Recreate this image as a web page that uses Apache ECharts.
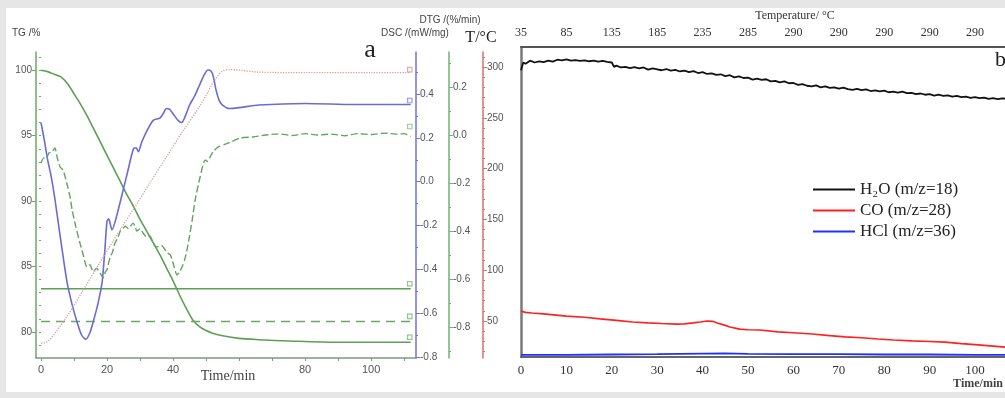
<!DOCTYPE html>
<html><head><meta charset="utf-8">
<script src="https://cdn.jsdelivr.net/npm/echarts@6/dist/echarts.min.js"></script>
<style>html,body{margin:0;padding:0;background:#fff}#c{width:1005px;height:398px}</style>
</head><body><div id="c"></div>
<script>
// ---------- Panel a : TG / DTG / DSC / T versus time ----------
const tgTime  = [0,2,4,6,8,10,12,14,16,18,20,22,24,26,28,30,32,34,36,38,40,42,44,46,48,50,52,55,60,66,75,90,112];
const tgValue = [100,99.9,99.7,99.5,99.0,98.2,97.4,96.5,95.5,94.5,93.5,92.5,91.5,90.5,89.6,88.6,87.7,86.8,85.9,84.9,83.9,82.8,81.8,80.9,80.4,80.1,79.9,79.7,79.5,79.4,79.3,79.2,79.2];
const levelTime = [0,112];
const tgSolidLevel = [83.3,83.3];
const tgDashLevel  = [80.8,80.8];
const dscTime  = [0,1,2,3,4.2,6,7.9,9.4,10.9,12.3,13.6,14.8,15.8,17.2,18.5,19.3,20,20.5,21.5,22.5,24.2,26,28,28.8,29.5,30.5,32,34,36,37,38,39,40,41.5,42.6,44,45,46.5,48,49.5,50.6,51.5,52.2,53,54,55,57,60,66,80,95,112];
const dscValue = [0.27,0.19,0.1,0.03,-0.078,-0.27,-0.46,-0.56,-0.64,-0.7,-0.72,-0.69,-0.64,-0.56,-0.46,-0.32,-0.18,-0.17,-0.22,-0.18,-0.08,0.03,0.15,0.155,0.137,0.18,0.23,0.28,0.29,0.31,0.334,0.33,0.31,0.28,0.27,0.31,0.35,0.39,0.44,0.49,0.51,0.505,0.48,0.42,0.37,0.35,0.334,0.338,0.35,0.357,0.352,0.352];
const dtgTime  = [0,0.8,1.5,2.4,3.3,4.2,5,5.8,6.7,7.8,8.8,9.4,10.5,11.8,12.8,13.9,14.8,15.8,16.8,17.9,18.8,19.5,20,20.9,21.6,22.4,23.2,24,24.8,25.5,26.5,27.9,28.5,29,30,31,32,33,34,35,36.5,38.2,39.2,40,41.2,42,42.7,43.5,44.2,45,45.8,46.7,48.2,49.7,50.5,51.2,52.1,53.6,55.5,57.3,60.3,64.2,68,72,76,80,84,88,92,96,100,104,108,110,112];
const dtgValue = [-0.117,-0.095,-0.1,-0.075,-0.07,-0.054,-0.1,-0.133,-0.146,-0.2,-0.258,-0.31,-0.38,-0.45,-0.5,-0.55,-0.54,-0.57,-0.555,-0.575,-0.595,-0.57,-0.56,-0.51,-0.49,-0.45,-0.43,-0.40,-0.39,-0.38,-0.39,-0.367,-0.38,-0.40,-0.39,-0.41,-0.425,-0.42,-0.45,-0.467,-0.46,-0.49,-0.5,-0.533,-0.583,-0.57,-0.55,-0.52,-0.48,-0.42,-0.354,-0.27,-0.175,-0.104,-0.11,-0.092,-0.07,-0.05,-0.04,-0.03,-0.0125,-0.008,0.0,0.005,-0.002,0.006,0.0,0.004,-0.003,0.006,0.002,0.008,0.004,0.006,-0.006];
const tempTime  = [0,1,2,3,4,6,8,12.8,17.9,24,28,33,38.1,43,48.2,50.5,52,53.5,55,57,60,66,80,100,112];
const tempValue = [28,28.5,30,33,37,46,55,80.5,108,140,160,186,212,237,262,275,284,291,296,297.5,297,295,294.5,294.5,294.5];

const aTimeLabels = [0,20,40,80,100];
const aTimeTicks  = [0,10,20,30,40,50,60,70,80,90,100,110];
const tgLabels  = [80,85,90,95,100];
const dscLabels = [-0.8,-0.6,-0.4,-0.2,0.0,0.2,0.4];
const dtgLabels = [-0.8,-0.6,-0.4,-0.2,0.0,0.2];
const tLabels   = [50,100,150,200,250,300];

// ---------- Panel b : MS signals versus time ----------
const topTempLabels = ['35','85','135','185','235','285','290','290','290','290','290',''];
const h2oTime  = [0,0.5,1,2,3,4,5,6,7,8,9,10,11,12,13,14,15,16,17,18,19,20,20.5,21,22,23,24,25,26,27,28,29,30,31,32,33,34,35,36,37,38,39,40,41,42,43,44,45,46,47,48,49,50,51,52,53,54,55,56,57,58,59,60,61,62,63,64,65,66,67,68,69,70,71,72,73,74,75,76,77,78,79,80,81,82,83,84,85,86,87,88,89,90,91,92,93,94,95,96,97,98,99,100,101,102,103,104,105,106,108,110];
const h2oValue = [92.5,95,94.6,95.6,95.0,95.4,95.1,95.6,95.3,95.9,95.7,96.0,95.6,95.8,95.5,95.7,95.4,95.6,95.3,95.5,95.2,95.0,93.6,94.0,93.4,93.6,93.2,93.5,93.1,93.4,92.7,93.1,92.8,92.5,92.9,92.4,92.6,92.1,92.4,91.9,92.2,91.6,91.9,91.3,91.5,91.0,91.2,90.6,90.9,90.2,90.5,90.0,90.1,89.5,89.8,89.4,89.6,88.9,89.1,88.6,88.9,88.3,88.4,87.8,88.0,87.5,87.3,87.6,87.0,87.3,86.8,87.0,86.6,86.9,86.4,86.2,86.5,86.1,86.3,85.8,86.0,85.7,85.9,85.4,85.6,85.3,85.6,85.1,85.2,84.8,85.0,84.6,84.8,84.3,84.6,84.2,84.4,84.0,84.2,83.8,84.0,83.6,83.8,83.5,83.7,83.3,83.5,83.2,83.4,83.2,83.1];
const coTime  = [0,1,2.4,5,10,14,17.4,21,24.6,28,31,34.3,36,37.9,39.5,41,42.2,43.4,45,46,48.2,50,52.6,56.6,60,64.1,68,71.4,75,78.6,82,86.1,90,93.4,97,100.7,104,106.6,110];
const coValue = [14.8,14.4,14.2,13.9,13.2,12.8,12.3,11.8,11.3,11.0,10.8,10.6,10.7,11.0,11.3,11.6,11.5,10.9,10.2,9.7,9.0,8.8,8.7,8.1,7.8,7.4,6.9,6.5,6.2,5.8,5.5,5.2,5.0,4.8,4.3,3.9,3.5,3.2,2.9];
const hclTime  = [0,10,20,30,40,45,50,60,70,80,90,100,110];
const hclValue = [0.7,0.7,0.8,0.9,1.1,1.2,1.0,0.9,0.9,0.8,0.8,0.7,0.7];

const seriesNames = ['H\u2082O (m/z=18)','CO (m/z=28)','HCl (m/z=36)'];

// ---------- build ----------
const zip = (t, v) => t.map((x, i) => [x, v[i]]);
const minorList = (a, b, s) => { const r = []; for (let x = a; x <= b + 1e-9; x += s) r.push(Math.round(x * 1000) / 1000); return r; };
const SANS = 'Liberation Sans', SERIF = 'Liberation Serif';

function yAx(o) {
  return Object.assign({
    type: 'value', gridIndex: 0, splitLine: {show: false},
    axisLine: {show: true, onZero: false, lineStyle: {color: o.color, width: 1.5}},
    axisTick: {show: true, length: 4, lineStyle: {color: o.color}, customValues: o.labels},
    axisLabel: {show: true, customValues: o.labels, fontFamily: SANS, fontSize: 10, color: '#555', margin: 4,
      formatter: o.fmt}
  }, o.extra);
}
function minorAx(o) {
  return {
    type: 'value', gridIndex: 0, position: o.position, offset: o.offset, min: o.min, max: o.max,
    splitLine: {show: false}, axisLine: {show: false},
    axisTick: {show: true, length: 2, lineStyle: {color: o.color}, customValues: o.ticks},
    axisLabel: {show: false}
  };
}

const tgAx  = {min: 78.0, max: 101.4, color: '#6aa862', position: 'left', offset: 0};
const dscAx = {min: -0.805, max: 0.592, color: '#7272d2', position: 'right', offset: 0};
const dtgAx = {min: -0.929, max: 0.346, color: '#72b272', position: 'right', offset: 33};
const tAx   = {min: 13.6, max: 314.8, color: '#d07272', position: 'right', offset: 67};

const yAxes = [
  yAx({color: tgAx.color, labels: tgLabels, fmt: v => String(v), extra: {min: tgAx.min, max: tgAx.max, position: 'left'}}),
  yAx({color: dscAx.color, labels: dscLabels, fmt: v => v.toFixed(1), extra: {min: dscAx.min, max: dscAx.max, position: 'right', offset: 0}}),
  yAx({color: dtgAx.color, labels: dtgLabels, fmt: v => v.toFixed(1), extra: {min: dtgAx.min, max: dtgAx.max, position: 'right', offset: 33}}),
  yAx({color: tAx.color, labels: tLabels, fmt: v => String(v), extra: {min: tAx.min, max: tAx.max, position: 'right', offset: 67}}),
  {type: 'value', gridIndex: 1, min: 0, max: 100, position: 'left', splitLine: {show: false},
   axisLine: {show: true, lineStyle: {color: '#7a7a7a', width: 2.5}}, axisTick: {show: false}, axisLabel: {show: false}},
  minorAx(Object.assign({ticks: minorList(79, 101, 1)}, tgAx)),
  minorAx(Object.assign({ticks: minorList(-0.7, 0.5, 0.1)}, dscAx)),
  minorAx(Object.assign({ticks: minorList(-0.9, 0.3, 0.1)}, dtgAx)),
  minorAx(Object.assign({ticks: minorList(20, 310, 10)}, tAx))
];

const bMax = 106.6;
const xAxes = [
  {type: 'value', gridIndex: 0, min: -1.52, max: 113.6, splitLine: {show: false},
   axisLine: {show: true, onZero: false, lineStyle: {color: '#7f9a7f', width: 1.5}},
   axisTick: {show: true, length: 3, customValues: aTimeTicks, lineStyle: {color: '#7f9a7f'}},
   axisLabel: {customValues: aTimeLabels, fontFamily: SANS, fontSize: 11, color: '#555', margin: 6}},
  {type: 'value', gridIndex: 1, min: 0, max: bMax, interval: 10, position: 'bottom', splitLine: {show: false},
   axisLine: {show: true, onZero: false, lineStyle: {color: '#666', width: 2}}, axisTick: {show: false},
   axisLabel: {fontFamily: SERIF, fontSize: 13, color: '#333', margin: 7, showMaxLabel: false}},
  {type: 'value', gridIndex: 1, min: 0, max: bMax, interval: 10, position: 'top', splitLine: {show: false},
   axisLine: {show: true, onZero: false, lineStyle: {color: '#555', width: 2}}, axisTick: {show: false},
   axisLabel: {fontFamily: SERIF, fontSize: 12, color: '#333', margin: 8, showMaxLabel: false,
     formatter: v => (Math.abs(v / 10 - Math.round(v / 10)) < 1e-6 ? (topTempLabels[Math.round(v / 10)] || '') : '')}}
];

function endBox(color, dy) {
  return {show: true, formatter: ' ', width: 4, height: 4, padding: 0, borderColor: color, borderWidth: 0.8,
    backgroundColor: 'rgba(255,255,255,0.7)', offset: [-11, dy], fontSize: 4};
}
function lineSeries(name, data, xi, yi, color, width, type, extra) {
  return Object.assign({name, type: 'line', data, xAxisIndex: xi, yAxisIndex: yi, showSymbol: false, symbol: 'none',
    lineStyle: {color, width, type}, itemStyle: {color}, animation: false, silent: true, clip: true}, extra || {});
}

const series = [
  lineSeries('TG', zip(tgTime, tgValue), 0, 0, '#5ba053', 1.6, 'solid', {smooth: 0.3, endLabel: endBox('#7fb87a', -5)}),
  lineSeries('TG level 1', zip(levelTime, tgSolidLevel), 0, 0, '#5ba053', 1.5, 'solid', {endLabel: endBox('#7fb87a', -5)}),
  lineSeries('TG level 2', zip(levelTime, tgDashLevel), 0, 0, '#6aa862', 1.5, [9, 6], {endLabel: endBox('#7fb87a', -5)}),
  lineSeries('DSC', zip(dscTime, dscValue), 0, 1, '#6b6bd6', 1.6, 'solid', {smooth: 0.25, endLabel: endBox('#8a8ae0', -4)}),
  lineSeries('DTG', zip(dtgTime, dtgValue), 0, 2, '#5fa65b', 1.4, [7, 3], {smooth: 0.2, endLabel: endBox('#8fc48a', -10)}),
  lineSeries('T', zip(tempTime, tempValue), 0, 3, '#d9a0a0', 1.3, 'dotted', {smooth: 0.3, endLabel: endBox('#e09a9a', -3)}),
  lineSeries(seriesNames[0], zip(h2oTime, h2oValue), 1, 4, '#111111', 1.8, 'solid'),
  lineSeries(seriesNames[1], zip(coTime, coValue), 1, 4, '#ff2020', 1.6, 'solid'),
  lineSeries(seriesNames[2], zip(hclTime, hclValue), 1, 4, '#2030ff', 1.8, 'solid')
];

function txt(text, x, y, font, fill, align) {
  return {type: 'text', silent: true, style: {text, x, y, font, fill, textAlign: align || 'center', textVerticalAlign: 'middle'}};
}

const chart = echarts.init(document.getElementById('c'), null, {renderer: 'canvas'});
chart.setOption({
  backgroundColor: '#ffffff',
  animation: false,
  grid: [
    {left: 36, top: 52, width: 380, height: 306, containLabel: false},
    {left: 521, top: 47, width: 484, height: 310, containLabel: false}
  ],
  xAxis: xAxes,
  yAxis: yAxes,
  legend: {
    data: seriesNames, orient: 'vertical', left: 808, top: 176, itemWidth: 42, itemHeight: 2, icon: 'rect', itemGap: 4,
    textStyle: {fontFamily: SERIF, fontSize: 17, color: '#222', lineHeight: 17}, selectedMode: false
  },
  series,
  graphic: [
    {type: 'rect', silent: true, shape: {x: 0, y: 0, width: 1005, height: 8}, style: {fill: '#e6e6e6'}},
    {type: 'rect', silent: true, shape: {x: 0, y: 0, width: 6, height: 398}, style: {fill: '#e6e6e6'}},
    {type: 'rect', silent: true, shape: {x: 0, y: 392, width: 1005, height: 6}, style: {fill: '#e6e6e6'}},
    txt('TG /%', 12, 33, '10px ' + SANS, '#444', 'left'),
    txt('DTG /(%/min)', 450, 20, '10px ' + SANS, '#444'),
    txt('DSC /(mW/mg)', 415, 33, '10px ' + SANS, '#444'),
    txt('T/\u00B0C', 481, 38, '16px ' + SERIF, '#222'),
    txt('a', 370, 50, '26px ' + SERIF, '#222'),
    txt('Time/min', 228, 376, '14px ' + SERIF, '#444'),
    txt('Temperature/ \u00B0C', 795, 16, '12px ' + SERIF, '#333'),
    txt('b', 995, 60, '22px ' + SERIF, '#222', 'left'),
    txt('Time/min', 978, 384, 'bold 12px ' + SERIF, '#444')
  ]
});
</script>
</body></html>
